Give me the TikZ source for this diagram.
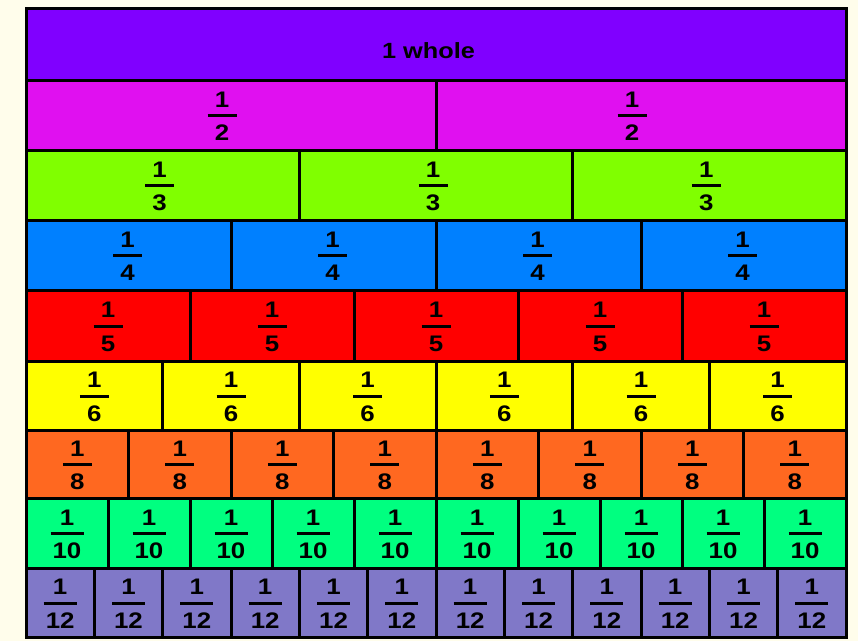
\documentclass[tikz,border=0pt]{standalone}
\usepackage{fontspec}
\setmainfont{Liberation Sans}[FakeStretch=1.15]
\definecolor{bgc}{HTML}{FFFDEB}
\definecolor{c1}{HTML}{8000FF}
\definecolor{c2}{HTML}{E010F0}
\definecolor{c3}{HTML}{80FF00}
\definecolor{c4}{HTML}{0080FF}
\definecolor{c5}{HTML}{FF0000}
\definecolor{c6}{HTML}{FFFF00}
\definecolor{c8}{HTML}{FF6820}
\definecolor{c10}{HTML}{00FF80}
\definecolor{c12}{HTML}{8078C8}
\begin{document}
\begin{tikzpicture}[x=1pt,y=-1pt,
  piece/.style={draw=black, line width=3pt, rectangle, inner sep=0pt, outer sep=0pt,
    anchor=north west},
  fracnum/.style={font=\fontsize{22.5}{26}\selectfont\bfseries, inner sep=0pt, anchor=base},
  fracbar/.style={draw=black, line width=3pt},
  wholetxt/.style={font=\fontsize{22}{26}\selectfont\bfseries, inner sep=0pt, anchor=base}]
  \fill[bgc] (0,0) rectangle (858,641);
  \useasboundingbox (0,0) rectangle (858,641);
  % whole
  \node[piece, fill=c1, minimum width=820pt, minimum height=72pt] (whole) at (26,8) {};
  \node[wholetxt] (wholelabel) at (428.5,58.5) {1 whole};
  % fraction rows: denominator / colour / top / bottom / label x-offset
  \foreach \d/\col/\T/\B/\off in {2/c2/80/150/-9,3/c3/150/220/-3,4/c4/220/290/-1,5/c5/290/361/0,
      6/c6/361/430/0,8/c8/430/498/0,10/c10/498/568/0,12/c12/568/637/0} {
    \pgfmathsetmacro\C{(\T+\B)/2}
    \pgfmathsetmacro\H{\B-\T}
    \pgfmathsetmacro\W{820/\d}
    \pgfmathsetmacro\bw{ifthenelse(\d>9,16.5,14.5)}
    \foreach \i in {1,...,\d} {
      \pgfmathsetmacro\X{26+(\i-1)*\W}
      \pgfmathsetmacro\cx{\X+\W/2+\off}
      \node[piece, fill=\col, minimum width=\W pt, minimum height=\H pt] (p\d-\i) at (\X,\T) {};
      \node[fracnum] (n\d-\i) at (\cx,\C-8) {1};
      \node[fracnum] (d\d-\i) at (\cx,\C+25.5) {\d};
      \draw[fracbar] (\cx-\bw,\C+0.5) -- (\cx+\bw,\C+0.5);
    }
  }
\end{tikzpicture}
\end{document}
